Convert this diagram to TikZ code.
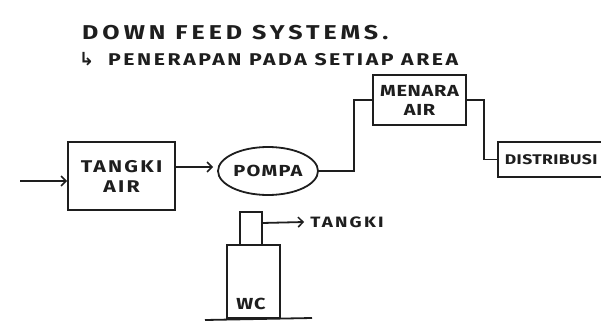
\documentclass[tikz,border=0pt]{standalone}
\usepackage{fontspec}
\setmainfont{Fira Sans}[FakeStretch=1.25,LetterSpace=13]
\newfontfamily\arrowfont{DejaVu Sans}
\usetikzlibrary{arrows.meta,shapes.geometric,calc}
\definecolor{ink}{HTML}{1E1E1E}
\tikzset{
  ink/.style={draw=ink,line width=1.8pt},
  boxnode/.style={ink,rectangle,inner sep=0pt,align=center,text=ink,font=\fontsize{17}{20}\bfseries\selectfont},
  handarrow/.style={ink,-{Straight Barb[length=5pt,width=10pt,line width=1.5pt]}},
  handline/.style={ink},
  title/.style={anchor=base west,inner sep=0pt,text=ink}
}
\begin{document}
\begin{tikzpicture}[x=1pt,y=-1pt]
\useasboundingbox (0,0) rectangle (601,326);
\clip (0,0) rectangle (601,326);
\fill[white] (0,0) rectangle (601,326);
% titles
\node[title,font=\fontsize{20}{22}\bfseries\selectfont\addfontfeatures{LetterSpace=20}] (t1) at (82,40) {DOWN FEED SYSTEMS.};
\node[title,font=\fontsize{18}{20}\bfseries\selectfont] (t2a) at (79,66) {\arrowfont ↳};
\node[title,font=\fontsize{17}{19}\bfseries\selectfont\addfontfeatures{LetterSpace=15}] (t2) at (108,66) {PENERAPAN PADA SETIAP AREA};
% boxes
\node[boxnode,minimum width=107pt,minimum height=68pt] (tangki) at (121.5,176) {TANGKI\\AIR};
\node[boxnode,ellipse,minimum width=100pt,minimum height=48pt,font=\fontsize{16}{18}\bfseries\selectfont\addfontfeatures{LetterSpace=8}] (pompa) at (268,171) {POMPA};
\node[boxnode,minimum width=93pt,minimum height=50pt,font=\fontsize{16}{19}\bfseries\selectfont\addfontfeatures{LetterSpace=4}] (menara) at (419.5,100) {MENARA\\AIR};
\node[boxnode,anchor=west,minimum width=130pt,minimum height=35pt,text width=120pt,align=left,inner xsep=7pt,font=\fontsize{14}{16}\bfseries\selectfont\addfontfeatures{LetterSpace=3}] (distribusi) at (497,159.5) {DISTRIBUSI};
\node[boxnode,minimum width=53pt,minimum height=73pt,line width=2.2pt] (wc) at (253.5,281.5) {};
\node[inner sep=0pt,text=ink,font=\fontsize{16}{18}\bfseries\selectfont\addfontfeatures{LetterSpace=4}] (wclabel) at (251,304) {WC};
\node[inner sep=0pt,text=ink,font=\fontsize{15}{17}\bfseries\selectfont\addfontfeatures{LetterSpace=15}] (tangki2) at (347,222) {TANGKI};
% connectors
\coordinate (in) at (20,181);
\draw[handarrow] (in) -- (in -| tangki.west);
\draw[handarrow] ($(tangki.east)+(0,-9)$) -- ($(pompa.west)+(-4,-4)$);
\draw[handline] (pompa.east) -- ++(35,0) |- (menara.west);
\draw[handline] (menara.east) -- ++(17,0) |- (distribusi.west);
\coordinate (p1) at (240,212);
\coordinate (p2) at (262,212);
\draw[handline] (p1 |- wc.north) -- (p1) -- (p2) -- (p2 |- wc.north);
\draw[handarrow] ($(p2)+(0,11)$) -- ($(tangki2.west)+(-6,0)$);
\coordinate (g1) at (205,320);
\coordinate (g2) at (312,318);
\draw[handline] (g1) -- (g2);
\end{tikzpicture}
\end{document}
